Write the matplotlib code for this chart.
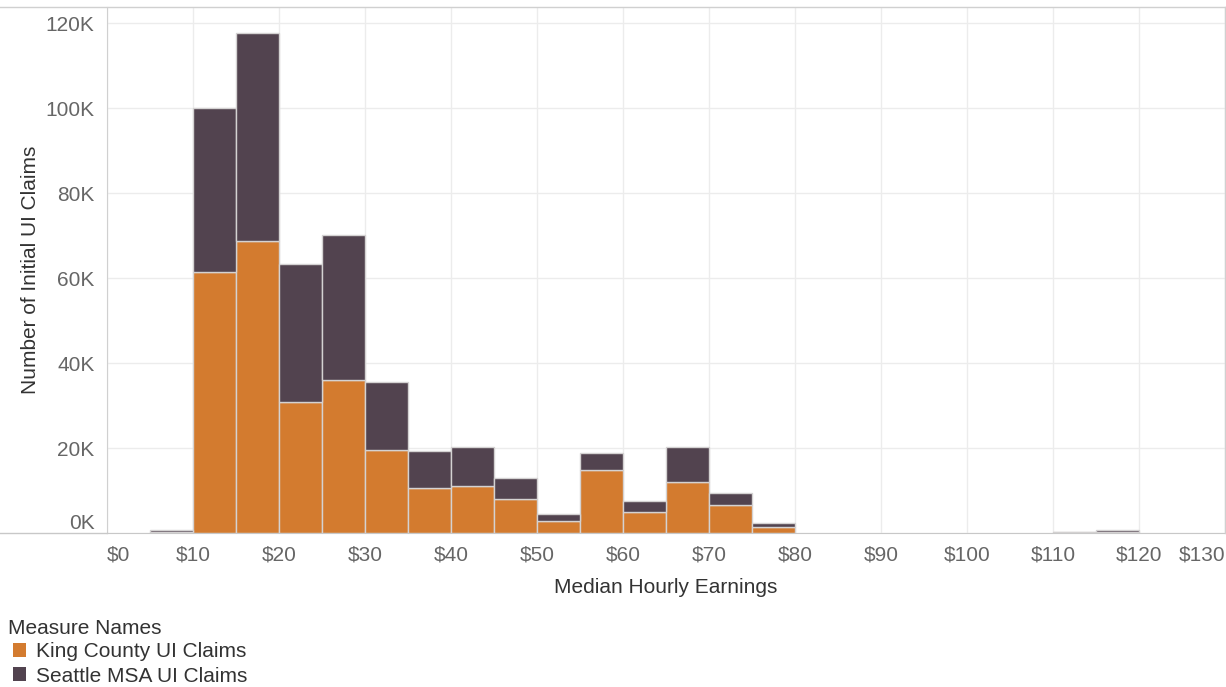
import numpy as np
import matplotlib.pyplot as plt
from matplotlib.lines import Line2D
from matplotlib.ticker import FuncFormatter

plt.rcParams['font.family'] = ['Liberation Sans', 'DejaVu Sans']

# bin left edges ($) and stacked claim counts
bin_left = [5, 10, 15, 20, 25, 30, 35, 40, 45, 50, 55, 60, 65, 70, 75, 110, 115]
king = [300, 61400, 68700, 30800, 36000, 19500, 10600, 11100, 8000, 2800,
        14800, 4900, 12000, 6600, 1400, 150, 300]
seattle = [300, 38600, 48900, 32500, 34100, 16000, 8700, 9100, 4900, 1700,
           4000, 2600, 8200, 2800, 1000, 100, 300]
x_ticks = list(range(0, 140, 10))
y_ticks = list(range(0, 140000, 20000))

orange = '#d37b2f'
purple = '#52434f'
edge = '#d4d2d2'

fig = plt.figure(figsize=(12.26, 6.87), dpi=100)
ax = fig.add_axes([107 / 1226, 154 / 687, 1118 / 1226, 526 / 687])

ax.bar(bin_left, king, width=5, align='edge', color=orange,
       edgecolor=edge, linewidth=1, zorder=2, label='King County UI Claims')
ax.bar(bin_left, seattle, width=5, align='edge', bottom=king, color=purple,
       edgecolor=edge, linewidth=1, zorder=2, label='Seattle MSA UI Claims')

ax.set_xlim(0, 130)
ax.set_ylim(0, 123800)
ax.set_xticks(x_ticks)
ax.set_yticks(y_ticks)
ax.xaxis.set_major_formatter(FuncFormatter(lambda v, p: f'${v:.0f}'))
ax.yaxis.set_major_formatter(FuncFormatter(lambda v, p: f'{v / 1000:.0f}K'))
ax.tick_params(length=0, labelsize=15, labelcolor='#666666')
ax.tick_params(axis='x', pad=9)
ax.tick_params(axis='y', pad=9)
ax.grid(True, color='#ececec', linewidth=1, zorder=0)
ax.set_axisbelow(True)

xl = ax.get_xticklabels()
xl[0].set_horizontalalignment('left')
xl[-1].set_horizontalalignment('right')
ax.get_yticklabels()[0].set_verticalalignment('bottom')

for s in ['top', 'right']:
    ax.spines[s].set_visible(False)
ax.spines['left'].set_color('#d0d0d0')
ax.spines['bottom'].set_color('#c8c8c8')

ax.set_xlabel('Median Hourly Earnings', fontsize=15, color='#333333', labelpad=10)
ax.set_ylabel('Number of Initial UI Claims', fontsize=15, color='#333333', labelpad=4)

# outer frame lines like the dashboard
fig.add_artist(Line2D([0, 1], [680 / 687, 680 / 687], transform=fig.transFigure,
                      color='#d0d0d0', linewidth=1))
fig.add_artist(Line2D([0, 107 / 1226], [154 / 687, 154 / 687], transform=fig.transFigure,
                      color='#c8c8c8', linewidth=1))
fig.add_artist(Line2D([1225 / 1226, 1225 / 1226], [154 / 687, 680 / 687],
                      transform=fig.transFigure, color='#d0d0d0', linewidth=1))

# legend: title as separate text, handles indented a bit
fig.text(8 / 1226, 1 - 629 / 687, 'Measure Names', fontsize=15, color='#333333',
         ha='left', va='center')
leg = fig.legend(loc='lower left', bbox_to_anchor=(0.002, -0.013), frameon=False,
                 fontsize=15, handlelength=0.65, handleheight=0.65, handletextpad=0.45,
                 labelspacing=0.25, borderpad=0)
for t in leg.get_texts():
    t.set_color('#333333')
for h in leg.legend_handles:
    h.set_edgecolor('none')

fig.savefig('out.png', dpi=100)
